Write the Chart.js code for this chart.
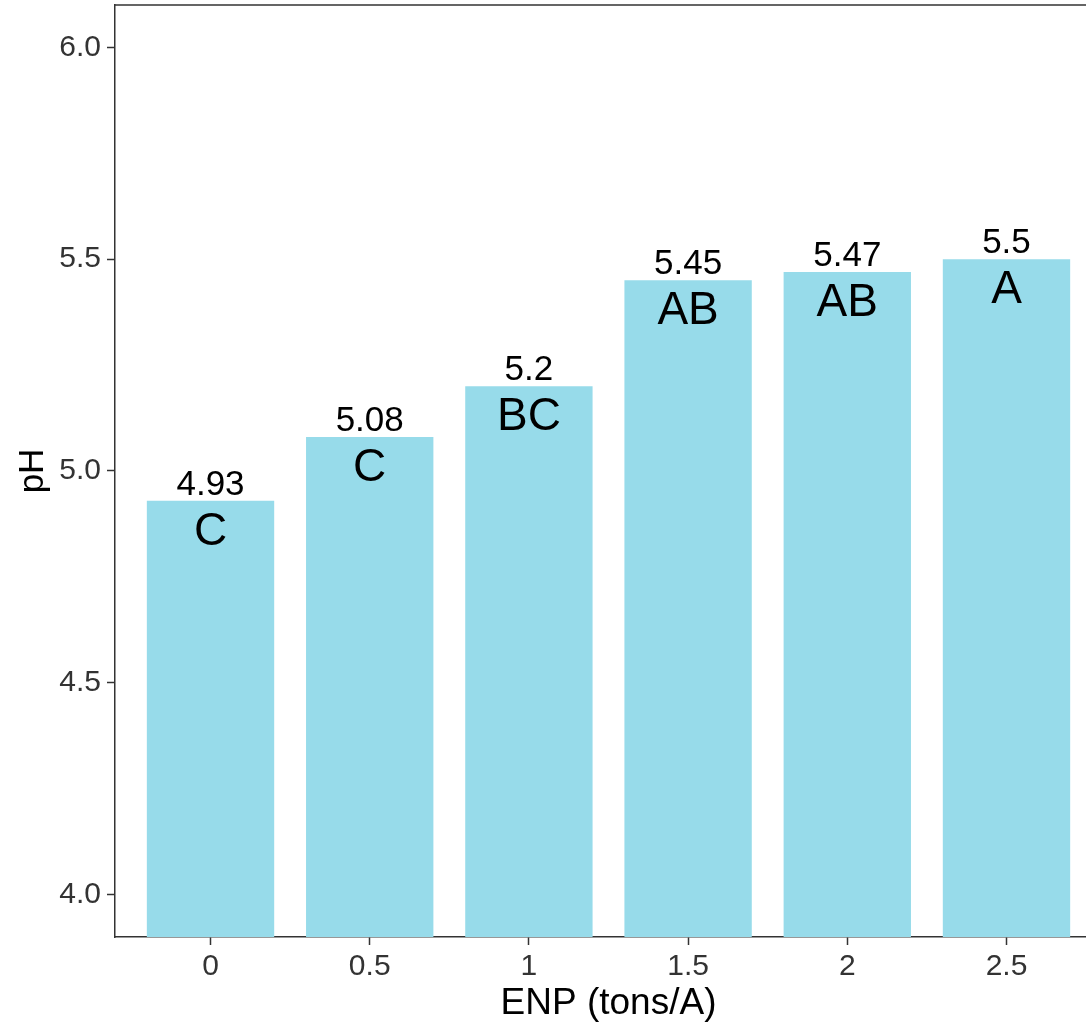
<!DOCTYPE html>
<html>
<head>
<meta charset="utf-8">
<script src="https://cdn.jsdelivr.net/npm/chart.js@4.4.1/dist/chart.umd.min.js"></script>
<style>
  html, body { margin: 0; padding: 0; background: #fff; overflow: hidden; }
  #wrap { width: 1110px; height: 1026px; }
</style>
</head>
<body>
<div id="wrap"><canvas id="myChart" width="1110" height="1026"></canvas></div>
<script>
const doses = [0, 0.5, 1, 1.5, 2, 2.5];
const phValues = [4.93, 5.08, 5.2, 5.45, 5.47, 5.5];
const letters = ['C', 'C', 'BC', 'AB', 'AB', 'A'];
const yTicks = [4.0, 4.5, 5.0, 5.5, 6.0];

const FONT = "'Liberation Sans', Arial, sans-serif";
const AXIS_COLOR = '#333333';

// value above each bar, letter group just inside its top
const barLabels = {
    id: 'barLabels',
    afterDatasetsDraw(chart) {
        const ctx = chart.ctx;
        const meta = chart.getDatasetMeta(0);
        ctx.save();
        ctx.fillStyle = '#000';
        ctx.textAlign = 'center';
        ctx.textBaseline = 'alphabetic';
        meta.data.forEach(function (bar, i) {
            ctx.font = '35px ' + FONT;
            ctx.fillText(String(phValues[i]), bar.x, bar.y - 6);
            ctx.font = '46px ' + FONT;
            ctx.fillText(letters[i], bar.x, bar.y + 44);
        });
        ctx.restore();
    }
};

const panelBorder = {
    id: 'panelBorder',
    afterDraw(chart) {
        const a = chart.chartArea;
        const ctx = chart.ctx;
        ctx.save();
        ctx.strokeStyle = AXIS_COLOR;
        ctx.lineWidth = 1.5;
        ctx.beginPath();
        ctx.moveTo(a.left, a.top);
        ctx.lineTo(a.right, a.top);
        ctx.lineTo(a.right, a.bottom);
        ctx.stroke();
        ctx.restore();
    }
};

const data = {
    datasets: [{
        label: 'pH',
        data: doses.map(function (d, i) { return { x: d, y: phValues[i] }; }),
        backgroundColor: 'rgb(151, 219, 234)',
        borderWidth: 0,
        barPercentage: 0.8,
        categoryPercentage: 1.0
    }]
};

const config = {
    type: 'bar',
    data: data,
    options: {
        responsive: false,
        animation: false,
        layout: { padding: { top: 5, right: 8, left: 0, bottom: 0 } },
        plugins: {
            legend: { display: false },
            tooltip: { enabled: false }
        },
        scales: {
            x: {
                type: 'linear',
                min: -0.3,
                max: 2.8,
                offset: false,
                grid: {
                    offset: false,
                    drawOnChartArea: false,
                    drawTicks: true,
                    tickLength: 8,
                    color: AXIS_COLOR,
                    tickWidth: 1.5
                },
                border: { display: true, color: AXIS_COLOR, width: 1.5 },
                afterBuildTicks: function (scale) {
                    scale.ticks = doses.map(function (v) { return { value: v }; });
                },
                afterFit: function (scale) {
                    scale.height = 89;
                    scale.paddingLeft = 0;
                    scale.paddingRight = 0;
                },
                ticks: {
                    color: AXIS_COLOR,
                    font: { family: FONT, size: 30 },
                    padding: 4,
                    maxRotation: 0,
                    callback: function (v) { return String(v); }
                },
                title: {
                    display: true,
                    text: 'ENP (tons/A)',
                    color: '#000',
                    font: { family: FONT, size: 37, lineHeight: 1 },
                    padding: { top: 0, bottom: 4 }
                }
            },
            y: {
                min: 3.9,
                max: 6.1,
                beginAtZero: false,
                grid: {
                    drawOnChartArea: false,
                    drawTicks: true,
                    tickLength: 8,
                    color: AXIS_COLOR,
                    tickWidth: 1.5
                },
                border: { display: true, color: AXIS_COLOR, width: 1.5 },
                afterBuildTicks: function (scale) {
                    scale.ticks = yTicks.map(function (v) { return { value: v }; });
                },
                afterFit: function (scale) {
                    scale.width = 115;
                    scale.paddingTop = 0;
                    scale.paddingBottom = 0;
                },
                ticks: {
                    color: AXIS_COLOR,
                    font: { family: FONT, size: 30 },
                    padding: 6,
                    callback: function (v) { return v.toFixed(1); }
                },
                title: {
                    display: true,
                    text: 'pH',
                    color: '#000',
                    font: { family: FONT, size: 35, lineHeight: 1 },
                    padding: { top: 16, bottom: 0 }
                }
            }
        }
    },
    plugins: [barLabels, panelBorder]
};

var myChart = new Chart(document.getElementById('myChart'), config);
</script>
</body>
</html>
